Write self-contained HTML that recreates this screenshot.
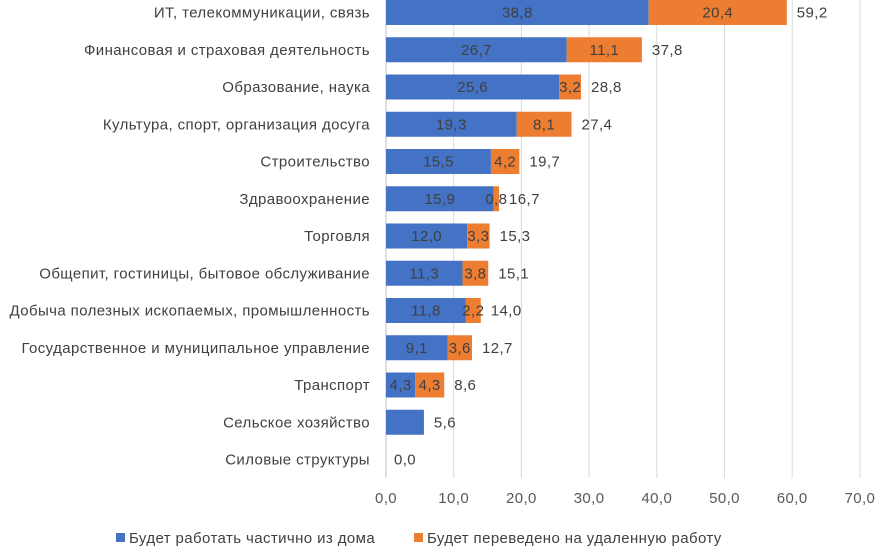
<!DOCTYPE html>
<html><head><meta charset="utf-8"><style>
body{margin:0;background:#fff;font-family:"Liberation Sans","DejaVu Sans",sans-serif;}
svg text{font-family:"Liberation Sans","DejaVu Sans",sans-serif;letter-spacing:0.4px;}
</style></head><body>
<svg id="chart" width="876" height="547" xmlns="http://www.w3.org/2000/svg"></svg>
<script>
const categories=["ИТ, телекоммуникации, связь","Финансовая и страховая деятельность","Образование, наука","Культура, спорт, организация досуга","Строительство","Здравоохранение","Торговля","Общепит, гостиницы, бытовое обслуживание ","Добыча полезных ископаемых, промышленность","Государственное и муниципальное управление","Транспорт","Сельское хозяйство","Силовые структуры"];
const partialHome=[38.8,26.7,25.6,19.3,15.5,15.9,12.0,11.3,11.8,9.1,4.3,5.6,0];
const remoteWork=[20.4,11.1,3.2,8.1,4.2,0.8,3.3,3.8,2.2,3.6,4.3,0,0];
const totals=[59.2,37.8,28.8,27.4,19.7,16.7,15.3,15.1,14.0,12.7,8.6,5.6,0.0];
const ticks=[0,10,20,30,40,50,60,70];
const svg=document.getElementById('chart');
const NS='http://www.w3.org/2000/svg';
const x0=386,pxPer=6.77,rowStep=37.25,row0=12.5,barH=25,fs=15;
const X=v=>x0+v*pxPer;
const Y=i=>row0+i*rowStep;
function mk(tag,attrs,parent){const e=document.createElementNS(NS,tag);for(const k in attrs)e.setAttribute(k,attrs[k]);(parent||svg).appendChild(e);return e;}
const fmt=v=>v.toFixed(1).replace('.',',');
ticks.forEach(t=>{
 const g=mk('line',{x1:X(t),x2:X(t),y1:0,y2:478,stroke:t===0?'#bfbfbf':'#d9d9d9','stroke-width':1});
 
 
 const tx=mk('text',{x:X(t),y:503,'text-anchor':'middle','font-size':fs,fill:'#595959'});
 tx.textContent=fmt(t);
 
 
});
categories.forEach((c,i)=>{
 const cy=Y(i);
 const lab=mk('text',{x:370,y:cy+5,'text-anchor':'end','font-size':fs,fill:'#404040'});
 lab.textContent=c;
 
 
 if(partialHome[i]>0){
  const b=mk('rect',{x:X(0),y:cy-barH/2,width:X(partialHome[i])-X(0),height:barH,fill:'#4472c4'});
  
  
  if(remoteWork[i]>0){
   const t=mk('text',{x:(X(0)+X(partialHome[i]))/2,y:cy+5,'text-anchor':'middle','font-size':fs,fill:'#404040'});
   t.textContent=fmt(partialHome[i]);
   
   
  }
 }
 if(remoteWork[i]>0){
  const s=partialHome[i],e=s+remoteWork[i];
  const b=mk('rect',{x:X(s),y:cy-barH/2,width:X(e)-X(s),height:barH,fill:'#ed7d31'});
  
  
  const t=mk('text',{x:(X(s)+X(e))/2,y:cy+5,'text-anchor':'middle','font-size':fs,fill:'#404040'});
  t.textContent=fmt(remoteWork[i]);
  
  
 }
 const end=partialHome[i]+remoteWork[i];
 const tt=mk('text',{x:X(end)+(end>0?10:8),y:cy+5,'text-anchor':'start','font-size':fs,fill:'#404040'});
 tt.textContent=fmt(totals[i]);
 
 
});
const l1=mk('rect',{x:116,y:533,width:9,height:9,fill:'#4472c4'});


const lt1=mk('text',{x:129,y:543,'font-size':fs,fill:'#404040'});
lt1.textContent='Будет работать частично из дома';


const l2=mk('rect',{x:414,y:533,width:9,height:9,fill:'#ed7d31'});


const lt2=mk('text',{x:427,y:543,'font-size':fs,fill:'#404040'});
lt2.textContent='Будет переведено на удаленную работу';


</script>
</body></html>
